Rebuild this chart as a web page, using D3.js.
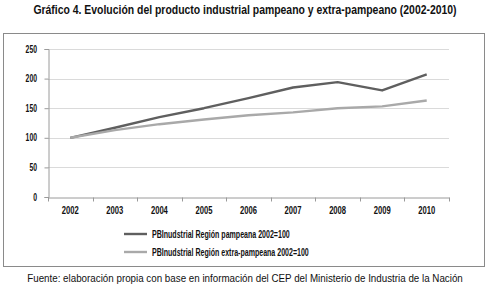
<!DOCTYPE html>
<html>
<head>
<meta charset="utf-8">
<script src="https://cdn.jsdelivr.net/npm/d3@7"></script>
<style>
  body { margin: 0; background: #fff; }
  svg text { font-family: "Liberation Sans", Arial, sans-serif; }
</style>
</head>
<body>
<div id="chart"></div>
<script>
'use strict'

const years = ['2002', '2003', '2004', '2005', '2006', '2007', '2008', '2009', '2010'];
const pampeana = [100, 117, 135, 150, 167, 185, 194, 180, 207];
const extraPampeana = [100, 113, 123, 131, 138, 143, 150, 153, 163];
const yTicks = [0, 50, 100, 150, 200, 250];
const seriesNames = ['PBInudstrial Región pampeana 2002=100', 'PBInudstrial Región extra-pampeana 2002=100'];
const seriesColors = ['#5f5f5f', '#a9a9a9'];

let svg = d3.select('#chart')
	.append('svg')
	.attr('width', 490)
	.attr('height', 284);

// condensed look: draw the text at (x,y) and squeeze it horizontally to width w
function condensed(parent, txt, x, y, w, anchor, size, weight) {
	let g = parent.append('g');
	let t = g.append('text')
		.attr('text-anchor', anchor)
		.style('font-size', size + 'px')
		.style('font-weight', weight)
		.attr('fill', '#111')
		.text(txt);
	let sx = Math.min(1, w / t.node().getComputedTextLength());
	g.attr('transform', 'translate(' + x + ',' + y + ') scale(' + sx + ',1)');
	return t;
}

// title
condensed(svg, 'Gráfico 4.  Evolución del producto industrial pampeano y extra-pampeano (2002-2010)',
	245, 14, 424, 'middle', 13, 'bold');

// frame
svg.append('rect')
	.attr('x', 3.5)
	.attr('y', 33.5)
	.attr('width', 481)
	.attr('height', 233)
	.attr('fill', 'none')
	.attr('stroke', '#8a8a8a')
	.attr('stroke-width', 1);

let x = d3.scaleBand().domain(years).range([48, 449]),
    y = d3.scaleLinear().domain([0, 250]).range([197, 49]);

// gridlines
svg.append('g')
	.selectAll('line')
	.data(yTicks.slice(1))
	.enter().append('line')
	.attr('x1', 48)
	.attr('x2', 449)
	.attr('y1', d => Math.round(y(d)) + 0.5)
	.attr('y2', d => Math.round(y(d)) + 0.5)
	.attr('stroke', '#dadada');

// y axis
let yAxis = d3.axisLeft(y).tickValues(yTicks).tickSize(4).tickFormat('');
let gy = svg.append('g')
	.attr('transform', 'translate(48.5,0)')
	.call(yAxis);
gy.select('.domain').attr('stroke', '#9a9a9a');
gy.selectAll('.tick line').attr('stroke', '#9a9a9a');
yTicks.forEach(v => {
	condensed(svg, String(v), 37, y(v) + 3.5, String(v).length * 3.8, 'end', 10, 'bold');
});

// x axis: ticks at category boundaries, labels centred
let xAxis = d3.axisBottom(x).tickSize(0).tickFormat('');
let gx = svg.append('g')
	.attr('transform', 'translate(0,197.5)')
	.call(xAxis);
gx.select('.domain').attr('stroke', '#9a9a9a');
gx.selectAll('.boundary')
	.data(years.concat(['end']))
	.enter().append('line')
	.attr('class', 'boundary')
	.attr('x1', (d, i) => Math.round(x.range()[0] + i * x.step()) + 0.5)
	.attr('x2', (d, i) => Math.round(x.range()[0] + i * x.step()) + 0.5)
	.attr('y1', 0)
	.attr('y2', 4)
	.attr('stroke', '#9a9a9a');
years.forEach(yr => {
	condensed(svg, yr, x(yr) + x.bandwidth() / 2, 214, 17, 'middle', 10, 'bold');
});

// lines
let line = d3.line()
	.x((d, i) => x(years[i]) + x.bandwidth() / 2)
	.y(d => y(d));

[pampeana, extraPampeana].forEach((s, k) => {
	svg.append('path')
		.datum(s)
		.attr('fill', 'none')
		.attr('stroke', seriesColors[k])
		.attr('stroke-width', 2.4)
		.attr('stroke-linejoin', 'round')
		.attr('d', line);
});

// legend
let legendWidths = [138, 157];
let legend = svg.append('g');
seriesNames.forEach((name, k) => {
	let ly = 234 + k * 18;
	legend.append('line')
		.attr('x1', 124)
		.attr('x2', 147)
		.attr('y1', ly)
		.attr('y2', ly)
		.attr('stroke', seriesColors[k])
		.attr('stroke-width', 2.4);
	condensed(legend, name, 152, ly + 3.5, legendWidths[k], 'start', 10, 'bold');
});

// source
condensed(svg, 'Fuente: elaboración propia con base en información del CEP del Ministerio de Industria de la Nación',
	245, 281.5, 436, 'middle', 11.5, 'normal');
</script>
</body>
</html>
